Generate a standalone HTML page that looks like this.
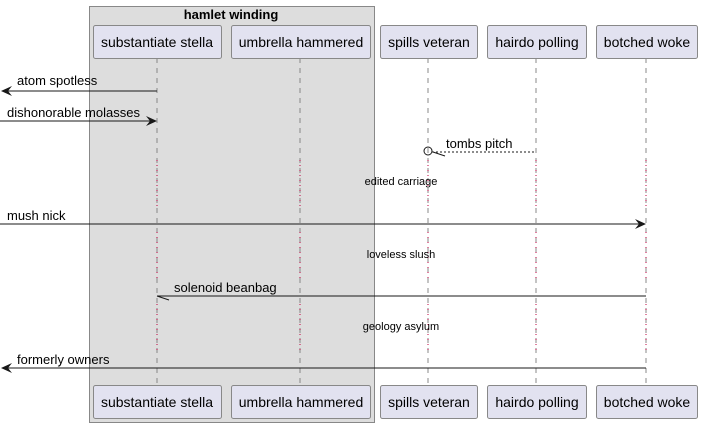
<!DOCTYPE html>
<html><head><style>body{margin:0;background:#fff}svg{display:block}</style></head><body>
<svg width="702" height="427" viewBox="0 0 702 427" xmlns="http://www.w3.org/2000/svg" font-family="Liberation Sans, sans-serif">
<rect x="89.5" y="6.5" width="285" height="416" fill="#dddddd" stroke="#888" stroke-width="1"/>
<text x="231" y="19" font-size="13" font-weight="bold" text-anchor="middle" fill="#000">hamlet winding</text>
<g stroke="#888" stroke-width="1" stroke-dasharray="5,5">
<line x1="157" y1="58" x2="157" y2="385"/><line x1="300" y1="58" x2="300" y2="385"/>
<line x1="428" y1="58" x2="428" y2="385"/><line x1="536" y1="58" x2="536" y2="385"/>
<line x1="646" y1="58" x2="646" y2="385"/></g>
<g stroke="#c00040" stroke-width="1" stroke-dasharray="1,4">
<line x1="157" y1="160" x2="157" y2="206"/><line x1="300" y1="160" x2="300" y2="206"/><line x1="428" y1="160" x2="428" y2="206"/><line x1="536" y1="160" x2="536" y2="206"/><line x1="646" y1="160" x2="646" y2="206"/>
<line x1="157" y1="232" x2="157" y2="278"/><line x1="300" y1="232" x2="300" y2="278"/><line x1="428" y1="232" x2="428" y2="278"/><line x1="536" y1="232" x2="536" y2="278"/><line x1="646" y1="232" x2="646" y2="278"/>
<line x1="157" y1="304" x2="157" y2="350"/><line x1="300" y1="304" x2="300" y2="350"/><line x1="428" y1="304" x2="428" y2="350"/><line x1="536" y1="304" x2="536" y2="350"/><line x1="646" y1="304" x2="646" y2="350"/>
</g>
<g fill="#e2e2f0" stroke="#888" stroke-width="1">
<rect x="93.5" y="25.5" width="128" height="33" rx="2"/><rect x="231.5" y="25.5" width="139" height="33" rx="2"/>
<rect x="380.5" y="25.5" width="97" height="33" rx="2"/><rect x="487.5" y="25.5" width="99" height="33" rx="2"/><rect x="596.5" y="25.5" width="101" height="33" rx="2"/>
<rect x="93.5" y="385.5" width="128" height="33" rx="2"/><rect x="231.5" y="385.5" width="139" height="33" rx="2"/>
<rect x="380.5" y="385.5" width="97" height="33" rx="2"/><rect x="487.5" y="385.5" width="99" height="33" rx="2"/><rect x="596.5" y="385.5" width="101" height="33" rx="2"/>
</g>
<g font-size="14" fill="#000" text-anchor="middle">
<text x="157" y="47">substantiate stella</text><text x="301" y="47">umbrella hammered</text><text x="429" y="47">spills veteran</text><text x="537" y="47">hairdo polling</text><text x="647" y="47">botched woke</text>
<text x="157" y="407">substantiate stella</text><text x="301" y="407">umbrella hammered</text><text x="429" y="407">spills veteran</text><text x="537" y="407">hairdo polling</text><text x="647" y="407">botched woke</text>
</g>
<g stroke="#181818" stroke-width="1" fill="none">
<line x1="2" y1="91" x2="157" y2="91"/>
<line x1="0" y1="121" x2="155" y2="121"/>
<line x1="432" y1="152" x2="536" y2="152" stroke-dasharray="2,2"/>
<circle cx="428" cy="151" r="4"/>
<line x1="433" y1="152" x2="445" y2="156"/>
<line x1="0" y1="224" x2="644" y2="224"/>
<line x1="157" y1="296" x2="646" y2="296"/>
<line x1="157" y1="296" x2="169" y2="300"/>
<line x1="2" y1="368" x2="646" y2="368"/>
</g>
<g fill="#181818">
<polygon points="1,91 12,86 8,91 12,96"/>
<polygon points="157,121 146,116 150,121 146,126"/>
<polygon points="646,224 635,219 639,224 635,229"/>
<polygon points="1,368 12,363 8,368 12,373"/>
</g>
<g font-size="13" fill="#000">
<text x="17" y="85">atom spotless</text>
<text x="7" y="117">dishonorable molasses</text>
<text x="446" y="148">tombs pitch</text>
<text x="7" y="220">mush nick</text>
<text x="174" y="292">solenoid beanbag</text>
<text x="17" y="364">formerly owners</text>
</g>
<g font-size="11" fill="#000" text-anchor="middle">
<text x="401" y="185">edited carriage</text>
<text x="401" y="258">loveless slush</text>
<text x="401" y="330">geology asylum</text>
</g>
</svg>
</body></html>
